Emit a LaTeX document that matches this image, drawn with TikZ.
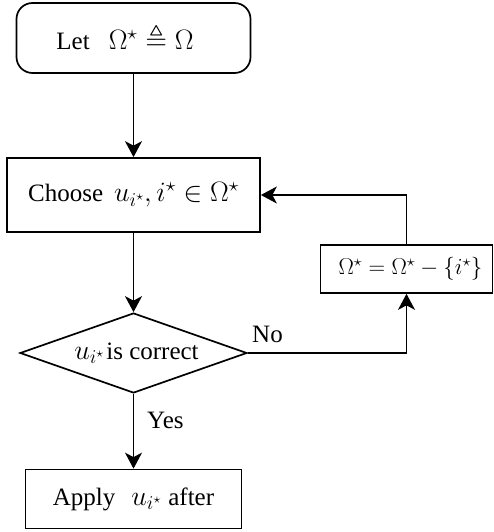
\documentclass[tikz,border=0pt]{standalone}
\usepackage[no-math]{fontspec}
\setmainfont{Liberation Serif}
\usepackage{fix-cm}
\usepackage{amssymb}
\usetikzlibrary{shapes.geometric,arrows.meta}
\newcommand\mth[1]{{\fontsize{28bp}{32bp}\selectfont$#1$}}
\newcommand\mths[1]{{\fontsize{23bp}{27bp}\selectfont$#1$}}
\begin{document}
\begin{tikzpicture}[x=1bp,y=-1bp,
  every node/.style={font=\fontsize{25bp}{29bp}\selectfont},
  box/.style={draw,line width=1.7bp,inner sep=0pt,align=center},
  conn/.style={line width=1.7bp,-{Stealth[length=16bp,width=17bp,inset=4.5bp]}},
  plain/.style={line width=1.7bp},
  lbl/.style={inner sep=0pt}]
\useasboundingbox (0,0) rectangle (494,532);
\node[box,rounded corners=16bp,minimum width=234bp,minimum height=70bp] (start) at (133.5,38) {Let\hspace{19bp}\mth{\Omega^\star \triangleq \Omega}\hspace*{17bp}};
\node[box,minimum width=253bp,minimum height=74bp] (choose) at (133.5,195) {Choose\hspace{11bp}\mth{u_{i^\star}, i^\star \in \Omega^\star}};
\node[box,diamond,aspect=2.84,minimum width=227bp,minimum height=80bp] (dia) at (133.5,353) {\hspace*{6bp}\mth{u_{i^\star}}\hspace{2bp}is correct};
\node[box,minimum width=216bp,minimum height=59bp] (apply) at (133.5,499) {Apply\hspace{16bp}\mth{u_{i^\star}}\hspace{7bp}after};
\node[box,minimum width=172bp,minimum height=48bp] (omega) at (406.5,269) {\hspace*{8bp}\mths{\Omega^\star = \Omega^\star - \{i^\star\}}};
\coordinate (c1) at (406.5,353);
\coordinate (c2) at (406.5,195);
\draw[conn] (start.south) -- (choose.north);
\draw[conn] (choose.south) -- (dia.north);
\draw[conn] (dia.south) -- (apply.north);
\draw[plain] (dia.east) -- (c1);
\draw[conn] (c1) -- (omega.south);
\draw[plain] (omega.north) -- (c2);
\draw[conn] (c2) -- (choose.east);
\node[lbl,anchor=west] (yes) at (147,420) {Yes};
\node[lbl,anchor=west] (no) at (252,334) {No};
\end{tikzpicture}
\end{document}
